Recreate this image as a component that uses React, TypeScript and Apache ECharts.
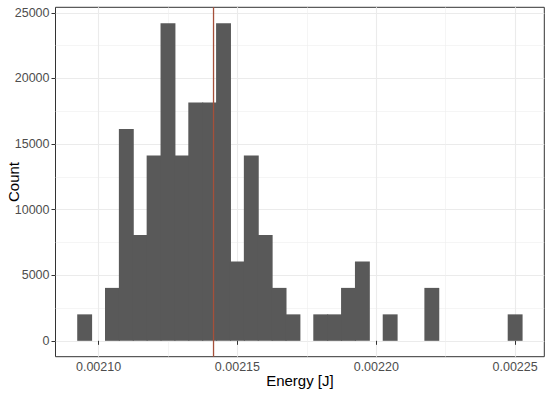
import React, { useEffect, useRef } from "react";
import * as echarts from "echarts";

// Histogram bins: bin centres (energy, J) and counts
const binCenters = [
  0.002095, 0.002105, 0.00211, 0.002115, 0.00212, 0.002125, 0.00213, 0.002135,
  0.00214, 0.002145, 0.00215, 0.002155, 0.00216, 0.002165, 0.00217, 0.00218,
  0.002185, 0.00219, 0.002195, 0.002205, 0.00222, 0.00225,
];
const binCounts = [
  2017, 4034, 16136, 8068, 14119, 24204, 14119, 18153,
  18153, 24204, 6051, 14119, 8068, 4034, 2017, 2017,
  2017, 4034, 6051, 2017, 4034, 2017,
];
const binWidth = 0.000005;
const meanEnergy = [0.0021414];

const xTicks = [0.0021, 0.00215, 0.0022, 0.00225];
const yTicks = [0, 5000, 10000, 15000, 20000, 25000];

const xMin = 0.0020845;
const xMax = 0.0022605;
const yMin = -1210;
const yMax = 25416;

const FONT = '"Liberation Sans", Arial, Helvetica, sans-serif';

export default function App() {
  const ref = useRef<HTMLDivElement>(null);
  useEffect(() => {
    document.body.style.margin = "0";
    const chart = echarts.init(ref.current!, null, { renderer: "svg" });
    const data = binCenters.map((c, i) => [c, binCounts[i]]);
    chart.setOption({
      animation: false,
      backgroundColor: "#ffffff",
      textStyle: { fontFamily: FONT },
      grid: {
        left: 55.5,
        right: 5.7,
        top: 7.3,
        bottom: 39.3,
        show: true,
        borderColor: "#333333",
        borderWidth: 1,
        backgroundColor: "transparent",
        containLabel: false,
        outerBoundsMode: "none",
      },
      xAxis: {
        type: "value",
        min: xMin,
        max: xMax,
        splitNumber: 4,
        name: "Energy [J]",
        nameLocation: "middle",
        nameGap: 16.5,
        nameMoveOverlap: false,
        nameTextStyle: { color: "#000000", fontSize: 15, fontFamily: FONT },
        axisLine: { show: false },
        axisTick: {
          show: true,
          length: 4,
          customValues: xTicks,
          lineStyle: { color: "#333333", width: 1 },
        },
        axisLabel: {
          customValues: xTicks,
          margin: 4,
          color: "#4D4D4D",
          fontSize: 12.5,
          fontFamily: FONT,
          formatter: (v: number) => v.toFixed(5),
        },
        splitLine: { show: true, lineStyle: { color: "#EBEBEB", width: 1.1 } },
        minorTick: { show: false, splitNumber: 2 },
        minorSplitLine: { show: true, lineStyle: { color: "#EFEFEF", width: 0.6 } },
      },
      yAxis: {
        type: "value",
        min: yMin,
        max: yMax,
        splitNumber: 5,
        name: "Count",
        nameLocation: "middle",
        nameGap: 35,
        nameMoveOverlap: false,
        nameTextStyle: { color: "#000000", fontSize: 15, fontFamily: FONT },
        axisLine: { show: false },
        axisTick: {
          show: true,
          length: 4,
          customValues: yTicks,
          lineStyle: { color: "#333333", width: 1 },
        },
        axisLabel: {
          customValues: yTicks,
          margin: 6,
          color: "#4D4D4D",
          fontSize: 12.5,
          fontFamily: FONT,
          formatter: (v: number) => String(v),
        },
        splitLine: { show: true, lineStyle: { color: "#EBEBEB", width: 1.1 } },
        minorTick: { show: false, splitNumber: 2 },
        minorSplitLine: { show: true, lineStyle: { color: "#EFEFEF", width: 0.6 } },
      },
      series: [
        {
          type: "custom",
          z: 5,
          encode: { x: 0, y: 1 },
          data,
          renderItem: (params: any, api: any) => {
            const c = api.value(0);
            const h = api.value(1);
            const p0 = api.coord([c - binWidth / 2, h]);
            const p1 = api.coord([c + binWidth / 2, 0]);
            // overlap neighbours by half a pixel each side to avoid antialiasing seams
            return {
              type: "rect",
              shape: {
                x: p0[0] - 0.5,
                y: p0[1],
                width: p1[0] - p0[0] + 1,
                height: p1[1] - p0[1],
              },
              style: { fill: "#595959" },
            };
          },
        },
        {
          type: "custom",
          z: 6,
          encode: { x: 0 },
          data: meanEnergy.map((m) => [m]),
          renderItem: (params: any, api: any) => {
            const m = api.value(0);
            const a = api.coord([m, yMin]);
            const b = api.coord([m, yMax]);
            return {
              type: "line",
              shape: { x1: a[0], y1: a[1], x2: b[0], y2: b[1] },
              style: { stroke: "#A5503A", lineWidth: 1.3 },
            };
          },
        },
      ],
    });
    return () => chart.dispose();
  }, []);
  return <div ref={ref} style={{ width: 550, height: 396 }} />;
}
